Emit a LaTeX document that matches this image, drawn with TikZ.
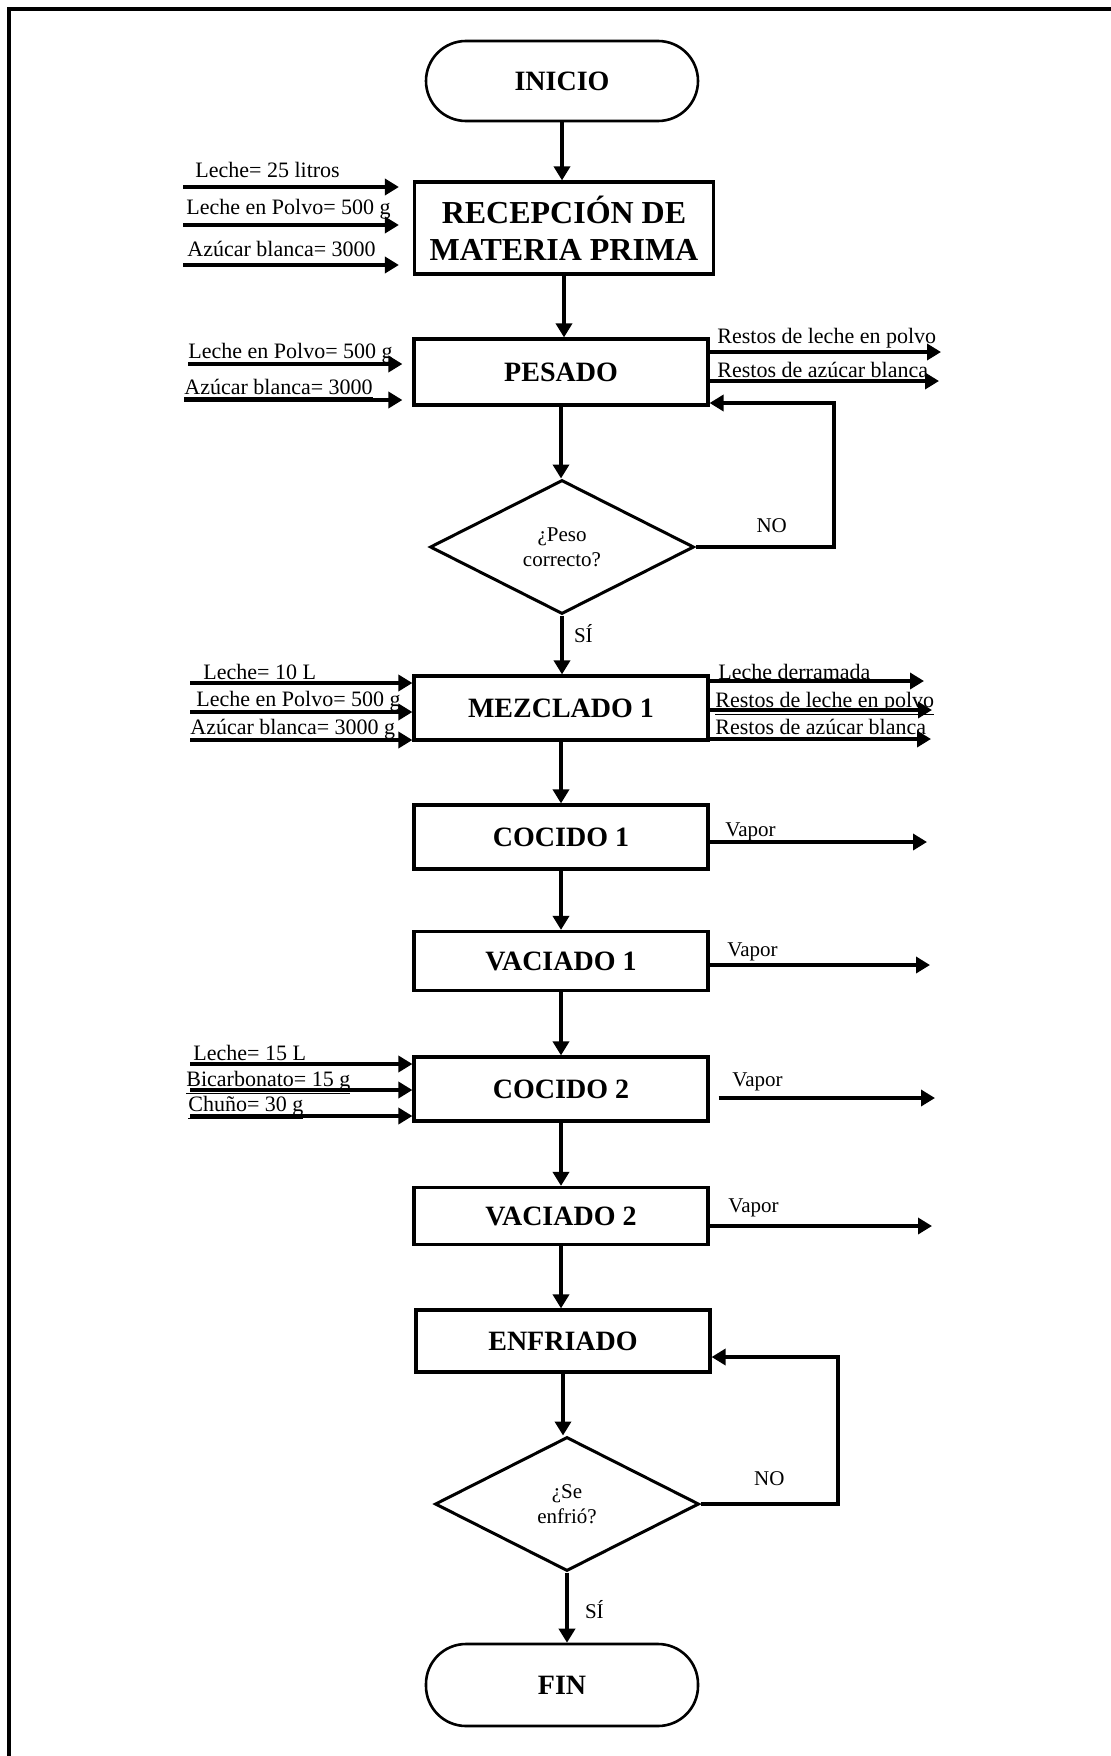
\documentclass[tikz,border=0pt]{standalone}
\usepackage{fontspec}
\setmainfont{Liberation Serif}
\usetikzlibrary{arrows.meta, shapes.geometric, positioning}

\begin{document}
\begin{tikzpicture}[x = 0.5pt, y = -0.5pt,
  box/.style = {draw, line width = 1.6pt, minimum width = 147pt,
    minimum height = 32pt, align = center,
    font = \fontsize{14}{18.5}\selectfont\bfseries},
  terminal/.style = {draw, line width = 1.3pt, rounded corners = 20pt,
    minimum width = 136pt, minimum height = 40pt,
    font = \fontsize{14}{16}\selectfont\bfseries},
  decision/.style = {draw, diamond, aspect = 2, line width = 1.5pt,
    minimum width = 132pt, minimum height = 67pt, inner sep = 0pt,
    align = center, font = \fontsize{10.5}{12.5}\selectfont},
  flow/.style = {line width = 2pt, -{Triangle[length = 7pt, width = 8pt]}},
  lbl/.style = {anchor = base west, inner sep = 0pt,
    font = \fontsize{11}{13}\selectfont},
  small/.style = {inner sep = 0pt, font = \fontsize{10.5}{12.5}\selectfont}]
  \useasboundingbox (0, 0) rectangle (1111, 1756);
  % page frame
  \draw[line width = 1.7pt] (1111, 9) -- (9, 9) -- (9, 1756);

  % main column
  \node[terminal] (inicio) at (562, 81) {INICIO};
  \node[box, minimum width = 149.5pt, minimum height = 46pt,
    font = \fontsize{16}{18.5}\selectfont\bfseries] (recepcion) at (564, 228)
    {RECEPCIÓN DE\\MATERIA PRIMA};
  \node[box, minimum height = 33pt] (pesado) at (561, 372) {PESADO};
  \node[decision] (peso) at (562, 547) {¿Peso\\correcto?};
  \node[box] (mezclado) at (561, 708) {MEZCLADO 1};
  \node[box] (cocido1) at (561, 837) {COCIDO 1};
  \node[box, minimum height = 29.5pt] (vaciado1) at (561, 961) {VACIADO 1};
  \node[box] (cocido2) at (561, 1089) {COCIDO 2};
  \node[box, minimum height = 28.5pt] (vaciado2) at (561, 1216) {VACIADO 2};
  \node[box, minimum height = 31pt] (enfriado) at (563, 1341) {ENFRIADO};
  \node[decision] (frio) at (567, 1504) {¿Se\\enfrió?};
  \node[terminal, minimum height = 41pt] (fin) at (562, 1685) {FIN};

  % vertical flow
  \foreach \a/\b in {inicio/recepcion, recepcion/pesado, pesado/peso,
    mezclado/cocido1, cocido1/vaciado1, vaciado1/cocido2, cocido2/vaciado2,
    vaciado2/enfriado, enfriado/frio}
    \draw[flow] (\a.south) -- (\a.south |- \b.north);
  \draw[flow] (peso.south) -- node[small, right = 5pt, pos = 0.3] {SÍ}
    (peso.south |- mezclado.north);
  \draw[flow] (frio.south) -- node[small, right = 8pt, pos = 0.53] {SÍ}
    (frio.south |- fin.north);

  % loops back when the answer is no
  \coordinate (back1) at (834, 403);
  \draw[flow] (peso.east) -- node[small, above = 6pt, pos = 0.55] {NO}
    (peso.east -| back1) -- (back1) -- (back1 -| pesado.east);
  \coordinate (back2) at (838, 1357);
  \draw[flow] (frio.east) -- node[small, above = 8pt, pos = 0.5] {NO}
    (frio.east -| back2) -- (back2) -- (back2 -| enfriado.east);

  % inputs on the left
  \foreach \y/\lx/\ly/\txt [count = \i] in {187/195/177/{Leche= 25 litros},
    225/186/214/{Leche en Polvo= 500 g}, 265/187/256/{Azúcar blanca= 3000}}{
    \coordinate (rin\i) at (183, \y);
    \draw[flow, shorten > = 7pt] (rin\i) -- (rin\i -| recepcion.west);
    \node[lbl] at (\lx, \ly) {\txt};
  }
  \foreach \y/\sx/\ly/\txt [count = \i] in {364/188/358/{Leche en Polvo= 500 g},
    400/184/394/{\underline{Azúcar blanca= 3000}}}{
    \coordinate (pin\i) at (\sx, \y);
    \draw[flow, shorten > = 5pt] (pin\i) -- (pin\i -| pesado.west);
    \node[lbl] at (\sx, \ly) {\txt};
  }
  \foreach \y/\lx/\ly/\txt [count = \i] in {683/203/679/{Leche= 10 L},
    712/196/706/{Leche en Polvo= 500 g},
    740/190/734/{\underline{Azúcar blanca= 3000 g}}}{
    \coordinate (min\i) at (190, \y);
    \draw[flow] (min\i) -- (min\i -| mezclado.west);
    \node[lbl] at (\lx, \ly) {\txt};
  }
  \foreach \y/\lx/\ly/\txt [count = \i] in {1064/193/1060/{\underline{Leche= 15 L}},
    1090/186/1086/{\underline{Bicarbonato= 15 g}},
    1116/188/1111/{\underline{Chuño= 30 g}}}{
    \coordinate (cin\i) at (190, \y);
    \draw[flow] (cin\i) -- (cin\i -| cocido2.west);
    \node[lbl] at (\lx, \ly) {\txt};
  }

  % outputs on the right
  \foreach \y/\ex/\ly/\txt [count = \i] in {352/941/343/{Restos de leche en polvo},
    381/939/377/{\underline{Restos de azúcar blanca}}}{
    \coordinate (pout\i) at (\ex, \y);
    \draw[flow] (pesado.east |- pout\i) -- (pout\i);
    \node[lbl] at (717, \ly) {\txt};
  }
  \foreach \y/\ex/\lx/\ly/\txt [count = \i] in
    {681/924/718/679/{\underline{Leche derramada}},
    710/932/715/707/{\underline{Restos de leche en polvo}},
    739/931/715/734/{\underline{Restos de azúcar blanca}}}{
    \coordinate (mout\i) at (\ex, \y);
    \draw[flow] (mezclado.east |- mout\i) -- (mout\i);
    \node[lbl] at (\lx, \ly) {\txt};
  }
  \foreach \b/\y/\ex/\lx/\ly/\gap in {cocido1/842/927/725/836/0pt,
    vaciado1/965/930/727/956/0pt, cocido2/1098/935/732/1086/4.5pt,
    vaciado2/1226/932/728/1212/0pt}{
    \coordinate (\b out) at (\ex, \y);
    \draw[flow, shorten < = \gap] (\b.east |- \b out) -- (\b out);
    \node[lbl, font = \fontsize{10.5}{12.5}\selectfont] at (\lx, \ly) {Vapor};
  }
\end{tikzpicture}
\end{document}
